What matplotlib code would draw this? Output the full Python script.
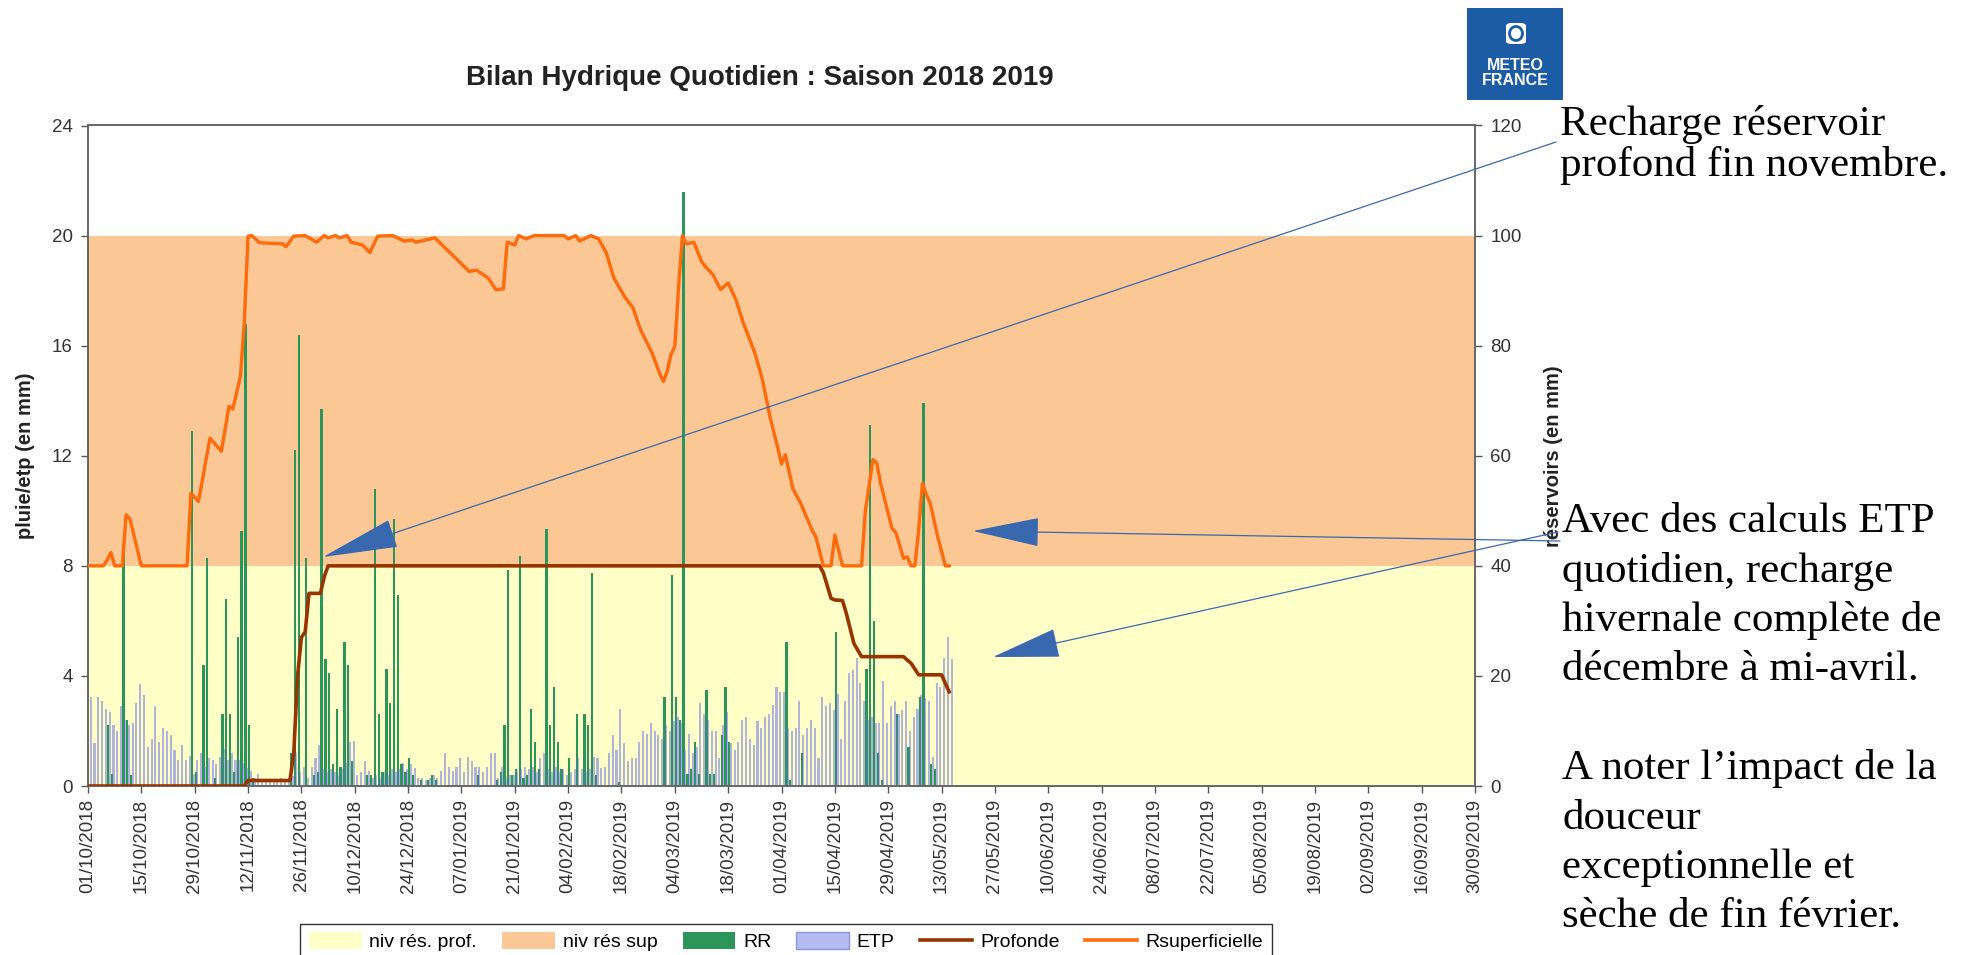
import matplotlib
matplotlib.use("Agg")
import matplotlib.pyplot as plt
import matplotlib.dates as mdates
import numpy as np
from matplotlib.patches import Patch, FancyArrowPatch, Rectangle, FancyBboxPatch, Ellipse
from matplotlib.lines import Line2D

plt.rcParams['font.family'] = ['Liberation Sans', 'DejaVu Sans']

# --- data (saison 2018-2019, valeurs journalieres a partir du 01/10/2018) ---
debut = "2018-10-01"
fin = "2019-09-30"

etp = [3.25, 1.55, 3.25, 3.1, 2.8, 2.7, 2.2, 2.0, 2.9, 2.4,
       2.2, 2.3, 3.0, 3.7, 3.3, 1.4, 1.7, 2.9, 1.6, 2.1,
       2.0, 1.85, 1.3, 0.95, 1.5, 0.95, 1.1, 0.45, 0.95, 1.2,
       0.7, 1.0, 0.95, 0.8, 1.05, 1.35, 0.95, 1.2, 0.95, 0.95,
       0.85, 0.65, 0.55, 0.3, 0.45, 0.2, 0.2, 0.15, 0.2, 0.2,
       0.3, 0.25, 0.3, 0.35, 1.2, 0.5, 0.7, 0.3, 0.7, 1.0,
       1.5, 0.6, 0.5, 0.6, 0.5, 0.4, 0.6, 0.85, 1.6, 1.65,
       0.4, 0.5, 0.9, 0.55, 0.3, 0.4, 0.3, 0.5, 0.4, 0.6,
       0.5, 0.6, 0.85, 0.6, 0.8, 0.65, 0.3, 0.3, 0.2, 0.3,
       0.4, 0.3, 0.55, 1.2, 0.7, 0.55, 0.7, 1.0, 0.5, 1.05,
       0.9, 0.7, 0.7, 0.5, 0.7, 1.2, 1.2, 0.3, 0.7, 0.3,
       0.4, 0.4, 0.5, 0.6, 0.7, 0.6, 0.7, 0.5, 1.0, 1.2,
       0.6, 0.5, 0.7, 0.5, 0.6, 0.4, 0.5, 0.6, 1.0, 0.6,
       0.5, 0.6, 1.05, 1.0, 0.65, 0.7, 1.2, 1.85, 1.3, 2.8,
       1.55, 0.9, 1.0, 1.0, 1.6, 2.0, 1.9, 2.3, 2.0, 1.85,
       1.7, 2.2, 2.0, 2.35, 2.5, 2.3, 1.3, 1.9, 1.2, 1.4,
       3.0, 2.6, 2.4, 2.0, 2.0, 1.0, 2.2, 2.7, 1.55, 1.3,
       1.6, 2.4, 2.5, 1.7, 1.5, 2.35, 2.1, 2.5, 2.6, 2.95,
       3.6, 3.4, 3.4, 2.1, 2.0, 2.1, 3.1, 1.85, 2.1, 2.4,
       2.1, 1.0, 3.25, 2.9, 3.0, 2.75, 3.35, 1.7, 3.1, 4.1,
       4.2, 4.65, 3.75, 3.1, 2.4, 2.5, 2.3, 2.3, 3.8, 2.3,
       2.9, 3.1, 2.6, 2.75, 3.1, 2.0, 2.5, 2.8, 3.3, 3.2,
       3.1, 1.05, 3.75, 3.6, 4.65, 5.4, 4.6]

rr = [0, 0, 0, 0, 0, 2.2, 0.45, 0, 0, 8.7,
      2.4, 0.4, 0, 0, 0, 0, 0, 0, 0, 0,
      0, 0, 0, 0, 0, 0, 0, 12.9, 0.5, 0,
      4.4, 8.3, 0, 0.3, 0, 2.6, 6.8, 2.6, 0.5, 5.4,
      9.25, 16.8, 2.2, 0.3, 0, 0, 0, 0, 0, 0,
      0, 0, 0, 1.2, 12.2, 16.4, 0, 8.3, 0, 0.4,
      0.5, 13.7, 4.6, 4.1, 0.8, 2.8, 0.7, 5.25, 4.4, 0.9,
      0, 0, 0, 0.4, 0.4, 10.8, 2.6, 0.5, 4.25, 3.0,
      9.7, 6.95, 0.8, 0.5, 1.0, 0.4, 0, 0.2, 0, 0.2,
      0.4, 0.2, 0, 0, 0, 0, 0, 0, 0, 0,
      0, 0, 0.4, 0, 0, 0, 0, 0.2, 0.5, 2.2,
      7.85, 0.4, 0.6, 8.35, 0.3, 0.4, 2.8, 1.6, 0.6, 0,
      9.35, 2.2, 3.6, 1.6, 0.6, 0, 1.0, 0, 2.6, 0,
      2.6, 2.2, 7.75, 0.4, 0, 0, 0, 0, 0, 0.15,
      0, 0, 0, 0, 0, 0, 0, 0, 0, 0,
      0, 3.25, 0, 7.65, 3.25, 2.4, 21.6, 0.45, 0.6, 1.6,
      0.45, 0, 3.5, 0.45, 0.45, 0, 1.85, 3.6, 1.6, 0,
      0, 0, 0, 0, 0, 0, 0, 0, 0, 0,
      0, 0, 0, 5.25, 0.2, 0, 0, 1.2, 0, 0,
      0, 0, 0, 0, 0, 0, 5.6, 0, 0, 0,
      0, 0, 0, 0, 4.25, 13.1, 6.0, 1.2, 0.2, 0,
      0, 0, 2.6, 0, 0, 1.4, 0, 0, 3.25, 13.9,
      0, 0.8, 0.6, 0, 0, 0, 0]

# reservoir superficiel (mm)
rsup_dates = ["2018-10-01", "2018-10-05", "2018-10-06", "2018-10-07", "2018-10-08", "2018-10-10",
              "2018-10-11", "2018-10-12", "2018-10-15", "2018-10-27", "2018-10-28", "2018-10-30",
              "2018-11-02", "2018-11-05", "2018-11-07", "2018-11-08", "2018-11-10", "2018-11-11",
              "2018-11-12", "2018-11-13", "2018-11-15", "2018-11-21", "2018-11-22", "2018-11-24",
              "2018-11-27", "2018-11-30", "2018-12-02", "2018-12-03", "2018-12-05", "2018-12-06",
              "2018-12-08", "2018-12-09", "2018-12-12", "2018-12-14", "2018-12-16", "2018-12-20",
              "2018-12-23", "2018-12-25", "2018-12-26", "2018-12-28", "2018-12-31", "2019-01-04",
              "2019-01-09", "2019-01-11", "2019-01-14", "2019-01-16", "2019-01-18", "2019-01-19",
              "2019-01-21", "2019-01-22", "2019-01-24", "2019-01-26", "2019-02-03", "2019-02-04",
              "2019-02-06", "2019-02-07", "2019-02-10", "2019-02-12", "2019-02-14", "2019-02-16",
              "2019-02-19", "2019-02-21", "2019-02-23", "2019-02-26", "2019-02-28", "2019-03-01",
              "2019-03-02", "2019-03-03", "2019-03-04", "2019-03-05", "2019-03-06", "2019-03-07",
              "2019-03-09", "2019-03-11", "2019-03-12", "2019-03-14", "2019-03-16", "2019-03-18",
              "2019-03-20", "2019-03-22", "2019-03-25", "2019-03-27", "2019-03-29", "2019-03-31",
              "2019-04-01", "2019-04-02", "2019-04-04", "2019-04-06", "2019-04-09", "2019-04-10",
              "2019-04-12", "2019-04-14", "2019-04-15", "2019-04-17", "2019-04-22", "2019-04-23",
              "2019-04-25", "2019-04-26", "2019-04-27", "2019-04-30", "2019-05-01", "2019-05-03",
              "2019-05-04", "2019-05-05", "2019-05-06", "2019-05-07", "2019-05-08", "2019-05-09",
              "2019-05-10", "2019-05-12", "2019-05-14", "2019-05-15"]
rsup = [40, 40, 41, 42.4, 40, 40,
        49.3, 48.5, 40, 40, 53.2, 51.7,
        63.2, 60.8, 69, 68.5, 74.4, 84,
        99.9, 100, 98.7, 98.5, 98, 99.9,
        100, 98.8, 100, 99.6, 100, 99.6,
        100, 98.8, 98.3, 96.9, 99.9, 100,
        99, 99.2, 98.8, 99.1, 99.6, 96.9,
        93.5, 93.7, 92.3, 90.2, 90.3, 98.8,
        98.3, 100, 99.4, 100, 100, 99.4,
        100, 99, 100, 99.4, 96.9, 92.3,
        88.7, 86.9, 82.9, 78.7, 75, 73.5,
        75.3, 78.4, 79.9, 90.8, 100, 98.5,
        98.8, 95.3, 94.4, 92.9, 90.2, 91.4,
        88.4, 84.1, 78.7, 73.8, 67, 61.5,
        58.5, 60.2, 54, 51.4, 46.5, 45.3,
        40, 40, 45.6, 40, 40, 50,
        59.3, 58.7, 55, 46.8, 46.1, 41.4,
        41.6, 40, 40, 46.5, 55, 53,
        51.4, 45.3, 40, 40]

# reservoir profond (mm)
rprof_dates = ["2018-10-01", "2018-11-11", "2018-11-12", "2018-11-23", "2018-11-24", "2018-11-25",
               "2018-11-26", "2018-11-27", "2018-11-28", "2018-12-01", "2018-12-02", "2018-12-03",
               "2019-04-11", "2019-04-12", "2019-04-14", "2019-04-15", "2019-04-17", "2019-04-18",
               "2019-04-20", "2019-04-22", "2019-05-03", "2019-05-05", "2019-05-07", "2019-05-13",
               "2019-05-15"]
rprof = [0, 0, 1, 1, 6, 20,
         27, 28, 35, 35, 38, 40,
         40, 38.7, 34.1, 33.8, 33.7, 31.4,
         25.9, 23.5, 23.5, 22.3, 20.2, 20.2,
         17.1]

# niveaux des reservoirs (mm)
niv_prof = [40, 40]
niv_sup = [100, 100]

noms = ["niv rés. prof.", "niv rés sup", "RR", "ETP", "Profonde", "Rsuperficielle"]

c_prof = "#ffffc8"
c_sup = "#fbc795"
c_rr = "#2b955a"
c_etp = "#6469e6"
c_brun = "#993300"
c_orange = "#ff6a0a"

W, H = 1968, 955
fig = plt.figure(figsize=(W / 100, H / 100), dpi=100)


def fx(x):
    return x / W


def fy(y):
    return 1 - y / H


ax = fig.add_axes([fx(88), fy(786), fx(1475) - fx(88), fy(125.5) - fy(786)])
ax2 = ax.twinx()

t0 = mdates.date2num(np.datetime64(debut))
jours = t0 + np.arange(len(etp))
bornes = mdates.date2num(np.array([debut, fin], dtype="datetime64[D]"))

ax2.set_ylim(0, 120)
ax.set_ylim(0, 24)
ax.set_xlim(bornes[0], bornes[1])

# fonds (en unites reservoir)
ax.fill_between(bornes, 0, niv_prof, color=c_prof, lw=0, zorder=0, transform=ax2.transData)
ax.fill_between(bornes, niv_prof, niv_sup, color=c_sup, lw=0, zorder=0, transform=ax2.transData)

ax.bar(jours + 0.3, rr, width=0.6, color=c_rr, lw=0, zorder=2)
ax.bar(jours + 0.7, etp, width=0.55, color=c_etp, alpha=0.5, lw=0, zorder=3)

ax2.plot(mdates.date2num(np.array(rsup_dates, dtype="datetime64[D]")), rsup,
         color=c_orange, lw=2.4, zorder=4)
ax2.plot(mdates.date2num(np.array(rprof_dates, dtype="datetime64[D]")), rprof,
         color=c_brun, lw=2.6, zorder=5)
ax.set_ylim(0, 24)
ax.set_xlim(bornes[0], bornes[1])

ticks = np.arange(np.datetime64(debut), np.datetime64("2019-10-01"), 14)
ax.set_xticks(mdates.date2num(ticks))
ax.set_xticklabels([d.astype(object).strftime("%d/%m/%Y") for d in ticks], rotation=90)
ax.set_yticks(np.arange(0, 25, 4))
ax2.set_yticks(np.arange(0, 121, 20))

for a in (ax, ax2):
    a.tick_params(direction="out", length=5, width=1, color="#555555",
                  labelsize=13.5, labelcolor="#333333", pad=6)
    for s in a.spines.values():
        s.set_color("#666666")
        s.set_linewidth(1.2)
ax.tick_params(axis="x", pad=4)

ax.set_ylabel("pluie/etp (en mm)", fontsize=14.5, fontweight="bold", color="#222222")
ax.yaxis.set_label_coords(-0.038, 0.5)
ax2.set_ylabel("réservoirs (en mm)", fontsize=14.5, fontweight="bold", color="#222222")
ax2.yaxis.set_label_coords(1.050, 0.5)

fig.text(fx(760), fy(78), "Bilan Hydrique Quotidien : Saison 2018 2019", ha="center", va="center",
         fontsize=20, fontweight="bold", color="#222222")

poignees = [Patch(fc=c_prof, ec="none"), Patch(fc=c_sup, ec="none"), Patch(fc=c_rr, ec="none"),
            Patch(fc="#b4bcf2", ec="#8a96d8"), Line2D([], [], color=c_brun, lw=2.6),
            Line2D([], [], color=c_orange, lw=2.6)]
leg = fig.legend(poignees, noms, loc="upper center", bbox_to_anchor=(fx(786), fy(914)), ncol=6,
                 frameon=True, fancybox=False, edgecolor="black", fontsize=14, handlelength=2.7,
                 handleheight=0.9, columnspacing=1.3, handletextpad=0.4, borderpad=0.45)
leg.get_frame().set_linewidth(1.0)

# fleches et commentaires
bleu = "#3a68ae"
for (xa, ya), (xb, yb), hl in [((1556, 142), (323, 557), 5.0),
                               ((1560, 541), (973, 531), 4.4),
                               ((1558, 532), (993, 657), 4.4)]:
    fig.add_artist(FancyArrowPatch((fx(xa), fy(ya)), (fx(xb), fy(yb)), transform=fig.transFigure,
                                   arrowstyle="-|>,head_length=%.1f,head_width=0.95" % hl,
                                   mutation_scale=10, color=bleu, lw=0.9, shrinkA=0, shrinkB=0))

serif = ["Liberation Serif", "DejaVu Serif"]
fig.text(fx(1560), fy(145), "Recharge réservoir\nprofond fin novembre.", family=serif,
         fontsize=31, ha="left", va="center", linespacing=1.08)
fig.text(fx(1562), fy(719),
         "Avec des calculs ETP\nquotidien, recharge\nhivernale complète de\ndécembre à mi-avril.\n\n"
         "A noter l\u2019impact de la\ndouceur\nexceptionnelle et\nsèche de fin février.",
         family=serif, fontsize=31, ha="left", va="center", linespacing=1.36)

# logo
fig.add_artist(Rectangle((fx(1467), fy(100)), fx(96), 92 / H, transform=fig.transFigure,
                         color="#1c5ca4", lw=0))
fig.add_artist(FancyBboxPatch((fx(1506), fy(44)), fx(20), 21 / H, transform=fig.transFigure,
                              boxstyle="round,pad=0,rounding_size=0.003", fc="white", ec="none"))
fig.add_artist(Ellipse((fx(1516), fy(33.5)), fx(13), 14 / H, transform=fig.transFigure,
                       fc="none", ec="#1c5ca4", lw=2))
fig.text(fx(1515), fy(73), "METEO\nFRANCE", color="white", fontsize=11.5, fontweight="bold",
         ha="center", va="center", linespacing=0.95)

fig.savefig("out.png", dpi=100)
